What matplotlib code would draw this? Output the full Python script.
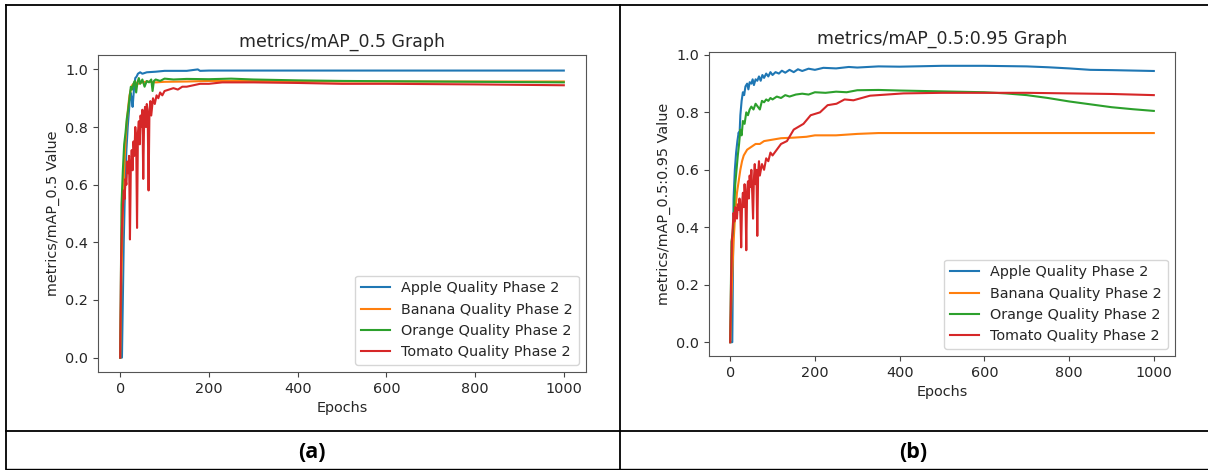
import matplotlib
matplotlib.use("Agg")
import matplotlib.pyplot as plt
from matplotlib.lines import Line2D

# ---- data (epoch, value) ----
series_names = ["Apple Quality Phase 2", "Banana Quality Phase 2",
                "Orange Quality Phase 2", "Tomato Quality Phase 2"]
series_colors = ["#1f77b4", "#ff7f0e", "#2ca02c", "#d62728"]

# (a) metrics/mAP_0.5
apple_a_ep = [0, 4, 6, 8, 11, 14, 17, 20, 23, 26, 28, 31, 34, 37, 40, 45, 50, 60, 80, 100,
              150, 175, 180, 200, 300, 500, 700, 1000]
apple_a = [0.0, 0.0, 0.2, 0.4, 0.6, 0.72, 0.8, 0.86, 0.92, 0.9, 0.87, 0.93, 0.97, 0.975, 0.985,
           0.99, 0.985, 0.99, 0.992, 0.995, 0.995, 1.0, 0.995, 0.996, 0.996, 0.996, 0.996, 0.996]

banana_a_ep = [0, 3, 6, 9, 12, 15, 18, 21, 24, 27, 30, 35, 40, 50, 60, 80, 100, 150, 200, 300,
               400, 600, 800, 1000]
banana_a = [0.0, 0.3, 0.5, 0.65, 0.75, 0.82, 0.87, 0.91, 0.93, 0.945, 0.95, 0.955, 0.95, 0.955,
            0.958, 0.955, 0.957, 0.958, 0.96, 0.96, 0.958, 0.958, 0.958, 0.958]

orange_a_ep = [0, 3, 6, 9, 12, 15, 18, 21, 24, 27, 30, 33, 36, 39, 42, 45, 50, 55, 60, 65,
               70, 73, 76, 80, 90, 100, 120, 150, 200, 250, 300, 400, 500, 700, 1000]
orange_a = [0.0, 0.53, 0.65, 0.74, 0.78, 0.83, 0.86, 0.9, 0.94, 0.93, 0.95, 0.96, 0.92, 0.955,
            0.97, 0.95, 0.965, 0.94, 0.96, 0.955, 0.965, 0.925, 0.96, 0.965, 0.96, 0.968, 0.965,
            0.967, 0.966, 0.968, 0.965, 0.962, 0.96, 0.958, 0.955]

tomato_a_ep = [0, 2, 4, 6, 8, 10, 12, 14, 16, 18, 20, 22, 24, 26, 28, 30, 32, 34, 36, 38,
               40, 42, 44, 46, 48, 50, 52, 54, 56, 58, 60, 62, 64, 66, 68, 70, 74, 78, 82, 86,
               90, 95, 100, 110, 120, 130, 140, 150, 165, 180, 200, 230, 260, 300, 400, 500,
               600, 800, 1000]
tomato_a = [0.0, 0.33, 0.45, 0.52, 0.58, 0.55, 0.62, 0.6, 0.68, 0.64, 0.7, 0.41, 0.66, 0.72,
            0.65, 0.75, 0.7, 0.8, 0.76, 0.45, 0.78, 0.82, 0.74, 0.84, 0.8, 0.86, 0.62, 0.83,
            0.87, 0.8, 0.88, 0.84, 0.58, 0.86, 0.89, 0.84, 0.9, 0.88, 0.91, 0.9, 0.92, 0.91,
            0.925, 0.93, 0.935, 0.93, 0.94, 0.94, 0.945, 0.95, 0.95, 0.955, 0.955, 0.955,
            0.953, 0.95, 0.95, 0.948, 0.945]

# (b) metrics/mAP_0.5:0.95
apple_b_ep = [0, 5, 8, 11, 14, 17, 20, 22, 24, 27, 30, 33, 36, 40, 43, 46, 50, 53, 56, 60,
              64, 68, 72, 76, 80, 85, 90, 95, 100, 107, 115, 122, 130, 140, 150, 160, 170, 185,
              200, 220, 250, 280, 300, 350, 400, 500, 600, 700, 750, 800, 850, 900, 1000]
apple_b = [0.0, 0.0, 0.5, 0.6, 0.66, 0.7, 0.73, 0.72, 0.79, 0.84, 0.87, 0.86, 0.89, 0.9, 0.88,
           0.905, 0.9, 0.915, 0.895, 0.915, 0.91, 0.925, 0.91, 0.93, 0.92, 0.935, 0.925, 0.94,
           0.93, 0.94, 0.935, 0.945, 0.938, 0.948, 0.94, 0.95, 0.944, 0.952, 0.948, 0.955,
           0.953, 0.958, 0.956, 0.96, 0.959, 0.962, 0.962, 0.96, 0.957, 0.953, 0.948, 0.947,
           0.944]

banana_b_ep = [0, 4, 8, 12, 16, 20, 24, 28, 32, 36, 40, 50, 60, 70, 80, 100, 120, 150, 180,
               200, 250, 300, 350, 400, 500, 700, 1000]
banana_b = [0.0, 0.2, 0.35, 0.45, 0.52, 0.56, 0.6, 0.63, 0.65, 0.66, 0.67, 0.68, 0.69, 0.69,
            0.7, 0.705, 0.71, 0.712, 0.715, 0.72, 0.72, 0.725, 0.728, 0.728, 0.728, 0.728, 0.728]

orange_b_ep = [0, 3, 6, 9, 12, 15, 18, 21, 24, 27, 30, 34, 38, 42, 46, 50, 55, 60, 65, 70,
               75, 80, 85, 90, 95, 100, 110, 120, 130, 140, 155, 170, 185, 200, 225, 250, 275,
               300, 350, 400, 500, 600, 650, 700, 750, 800, 850, 900, 950, 1000]
orange_b = [0.0, 0.35, 0.38, 0.45, 0.55, 0.6, 0.65, 0.69, 0.74, 0.72, 0.77, 0.76, 0.8, 0.79,
            0.81, 0.82, 0.81, 0.83, 0.82, 0.81, 0.84, 0.835, 0.845, 0.84, 0.85, 0.845, 0.855,
            0.85, 0.86, 0.855, 0.862, 0.865, 0.862, 0.87, 0.868, 0.872, 0.87, 0.877, 0.878,
            0.876, 0.873, 0.87, 0.866, 0.86, 0.85, 0.838, 0.828, 0.818, 0.811, 0.805]

tomato_b_ep = [0, 2, 4, 6, 8, 10, 12, 14, 16, 18, 20, 22, 24, 26, 28, 30, 32, 34, 36, 38,
               40, 42, 44, 46, 48, 50, 52, 54, 56, 58, 60, 62, 64, 66, 68, 70, 75, 80, 85, 90,
               95, 100, 110, 120, 134, 150, 173, 190, 212, 230, 251, 270, 291, 330, 409, 500,
               600, 700, 800, 900, 1000]
tomato_b = [0.0, 0.2, 0.35, 0.4, 0.45, 0.42, 0.47, 0.44, 0.43, 0.48, 0.46, 0.5, 0.45, 0.33,
            0.48, 0.52, 0.47, 0.55, 0.5, 0.32, 0.53, 0.56, 0.5, 0.58, 0.54, 0.6, 0.52, 0.43,
            0.57, 0.62, 0.55, 0.6, 0.37, 0.59, 0.63, 0.58, 0.62, 0.6, 0.64, 0.63, 0.66, 0.65,
            0.67, 0.69, 0.7, 0.74, 0.76, 0.79, 0.8, 0.825, 0.83, 0.845, 0.842, 0.858, 0.866,
            0.868, 0.868, 0.868, 0.866, 0.864, 0.86]

panels = [
    ("metrics/mAP_0.5 Graph", "metrics/mAP_0.5 Value",
     [(apple_a_ep, apple_a), (banana_a_ep, banana_a), (orange_a_ep, orange_a), (tomato_a_ep, tomato_a)],
     [98 / 1208, 98 / 470, 488 / 1208, 317 / 470], "(a)", 312 / 1208),
    ("metrics/mAP_0.5:0.95 Graph", "metrics/mAP_0.5:0.95 Value",
     [(apple_b_ep, apple_b), (banana_b_ep, banana_b), (orange_b_ep, orange_b), (tomato_b_ep, tomato_b)],
     [709 / 1208, 114 / 470, 466 / 1208, 304 / 470], "(b)", 913 / 1208),
]

txt = "#262626"
plt.rcParams["font.family"] = ["DejaVu Sans"]
plt.rcParams["font.size"] = 10.4

fig = plt.figure(figsize=(12.08, 4.70), dpi=100)

for title, ylabel, data, rect, tag, tag_x in panels:
    ax = fig.add_axes(rect)
    for (ep, vals), name, col in zip(data, series_names, series_colors):
        ax.plot(ep, vals, color=col, lw=1.5, label=name)
    ax.set_title(title, fontsize=12.5, color=txt)
    ax.set_xlabel("Epochs", color=txt)
    ax.set_ylabel(ylabel, color=txt)
    ax.set_xticks([0, 200, 400, 600, 800, 1000])
    ax.set_yticks([0.0, 0.2, 0.4, 0.6, 0.8, 1.0])
    ax.tick_params(colors="#444444", labelcolor=txt)
    for sp in ax.spines.values():
        sp.set_color("#555555")
    ax.legend(loc="lower right", labelcolor=txt)
    fig.text(tag_x, 1 - 453 / 470, tag, ha="center", va="center",
             fontsize=15.5, fontweight="bold", family="Open Sans")

# table borders around the two panels
def hline(y, x0=6, x1=1208, lw=1.3):
    fig.add_artist(Line2D([x0 / 1208, x1 / 1208], [1 - y / 470, 1 - y / 470],
                          transform=fig.transFigure, color="black", lw=lw))

def vline(x, y0=5, y1=469, lw=1.3):
    fig.add_artist(Line2D([x / 1208, x / 1208], [1 - y0 / 470, 1 - y1 / 470],
                          transform=fig.transFigure, color="black", lw=lw))

hline(5)
hline(431)
hline(469, lw=1.0)
vline(6)
vline(620)

fig.savefig("out.png", dpi=100)
